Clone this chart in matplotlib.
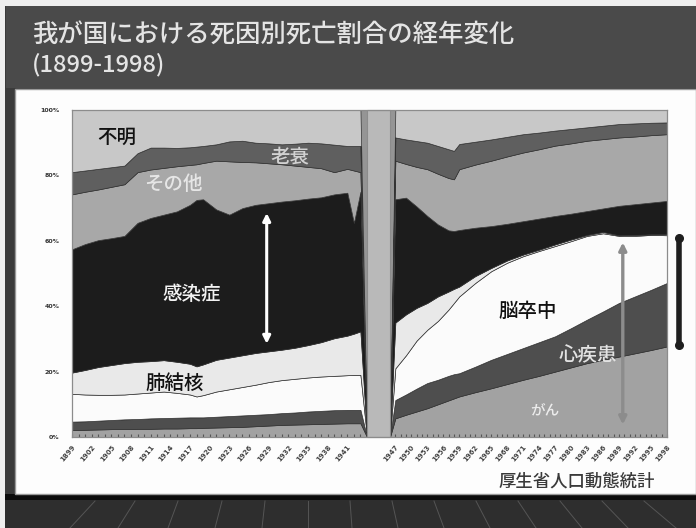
import matplotlib
matplotlib.use("Agg")
import matplotlib.pyplot as plt
from matplotlib.patches import Rectangle
from matplotlib.lines import Line2D
import numpy as np

plt.rcParams['font.family'] = ['Noto Sans CJK JP', 'DejaVu Sans']

W, H = 696, 528

# ---- death-cause shares (%), pre-war period; 1944 has no data (0) ----
years_pre = [1899, 1901, 1903, 1905, 1907, 1909, 1911, 1913, 1915, 1917, 1918,
             1919, 1921, 1923, 1925, 1927, 1929, 1931, 1933, 1935, 1937, 1939,
             1941, 1942, 1943, 1944]
cancer_pre = [2.1, 2.2, 2.3, 2.4, 2.4, 2.5, 2.5, 2.6, 2.6, 2.7, 2.7, 2.8, 2.9,
              3.0, 3.1, 3.3, 3.5, 3.7, 3.8, 3.9, 4.0, 4.1, 4.2, 4.2, 4.2, 0]
heart_pre = [2.6, 2.6, 2.7, 2.8, 3.0, 3.0, 3.2, 3.2, 3.3, 3.3, 3.3, 3.2, 3.3,
             3.4, 3.5, 3.5, 3.5, 3.6, 3.7, 3.9, 4.0, 4.1, 4.1, 4.1, 4.1, 0]
stroke_pre = [8.5, 8.2, 7.9, 7.7, 7.6, 7.8, 7.9, 8.1, 7.6, 7.0, 6.4, 6.8, 7.7,
              8.2, 8.7, 9.2, 9.8, 10.1, 10.3, 10.4, 10.5, 10.5, 10.6, 10.7, 10.7, 0]
tb_pre = [6.5, 7.5, 8.5, 9.1, 9.6, 9.7, 9.6, 9.6, 9.5, 9.4, 9.2, 9.4, 9.7,
          9.7, 9.7, 9.7, 9.4, 9.3, 9.5, 9.9, 10.5, 11.5, 12.1, 12.6, 13.3, 0]
infect_pre = [37.7, 38.5, 38.8, 38.8, 38.9, 42.5, 43.8, 44.5, 46.0, 48.6, 50.9,
              50.5, 46.0, 43.7, 45.0, 45.3, 45.3, 45.3, 45.1, 44.8, 44.3, 44.0,
              43.7, 33.9, 42.7, 0]
other_pre = [16.8, 16.0, 15.5, 15.7, 15.8, 15.5, 14.8, 14.3, 13.8, 12.2, 10.9,
             11.1, 14.9, 16.3, 14.1, 13.0, 12.2, 11.4, 10.6, 9.7, 8.9, 6.8,
             7.3, 16.0, 6.0, 0]
senility_pre = [6.8, 6.5, 6.3, 6.0, 5.7, 5.8, 6.7, 6.2, 5.6, 5.4, 5.4, 5.2, 5.0,
                6.1, 6.5, 6.0, 6.1, 6.1, 6.7, 7.4, 7.6, 8.4, 7.0, 7.5, 8.0, 0]
unknown_pre = [19.0, 18.5, 18.0, 17.5, 17.0, 13.2, 11.5, 11.5, 11.6, 11.4, 11.2,
               11.0, 10.5, 9.6, 9.4, 10.0, 10.2, 10.5, 10.3, 10.0, 10.2, 10.6,
               11.0, 11.0, 11.0, 0]

# ---- post-war period; 1946 has no data (0) ----
years_post = [1946, 1947, 1949, 1951, 1953, 1955, 1957, 1958, 1959, 1962, 1965,
              1968, 1971, 1974, 1977, 1980, 1983, 1986, 1989, 1992, 1995, 1998]
cancer_post = [0, 5.7, 6.8, 7.8, 8.8, 10.0, 11.2, 11.8, 12.4, 13.7, 14.9, 16.2,
               17.5, 18.7, 20.0, 21.3, 22.6, 23.6, 24.6, 25.6, 26.6, 27.7]
heart_post = [0, 5.6, 6.2, 7.0, 7.7, 7.5, 7.5, 7.4, 7.1, 7.8, 8.7, 9.2, 9.7,
              10.3, 10.8, 12.0, 13.3, 14.8, 16.4, 17.4, 18.4, 19.4]
stroke_post = [0, 9.7, 12.0, 14.7, 16.3, 18.0, 20.3, 21.8, 23.5, 25.6, 27.1,
               27.9, 28.1, 27.9, 27.6, 26.6, 25.6, 23.9, 20.5, 18.5, 16.8, 14.6]
tb_post = [0, 14.0, 12.5, 10.0, 8.2, 7.5, 5.5, 4.3, 3.0, 2.1, 1.0, 0.7, 0.5,
           0.4, 0.5, 0.5, 0.3, 0.4, 0.2, 0.3, 0.2, 0.3]
infect_post = [0, 37.7, 35.7, 31.0, 26.6, 22.0, 18.7, 17.7, 17.3, 14.8, 12.8,
               11.2, 10.2, 9.5, 8.7, 7.9, 7.3, 7.2, 9.0, 9.4, 9.7, 10.2]
other_post = [0, 11.8, 10.3, 12.1, 14.3, 15.5, 16.0, 15.8, 18.6, 19.3, 20.0,
              20.6, 21.0, 21.2, 21.5, 21.5, 21.5, 21.2, 20.9, 20.7, 20.6, 20.4]
senility_post = [0, 7.1, 7.5, 7.9, 8.1, 8.5, 8.8, 8.7, 7.7, 7.0, 6.5, 6.0, 5.6,
                 5.1, 4.6, 4.4, 4.1, 4.1, 4.1, 4.0, 3.8, 3.6]
unknown_post = [0, 8.4, 9.0, 9.5, 10.0, 11.0, 12.0, 12.5, 10.4, 9.7, 9.0, 8.2,
                7.4, 6.9, 6.3, 5.8, 5.3, 4.8, 4.3, 4.1, 3.9, 3.8]

causes = ['がん', '心疾患', '脳卒中', '肺結核', '感染症', 'その他', '老衰', '不明']
layer_colors = ['#a2a2a2', '#4e4e4e', '#fbfbfb', '#e9e9e9', '#1c1c1c',
                '#a8a8a8', '#5f5f5f', '#c8c8c8']
y_ticks = [0, 20, 40, 60, 80, 100]


def box(x0, y0, x1, y1):
    """Pixel box (top-left origin) -> figure fraction rect."""
    return [x0 / W, 1 - y1 / H, (x1 - x0) / W, (y1 - y0) / H]


fig = plt.figure(figsize=(W / 100, H / 100), dpi=100)
fig.patch.set_facecolor('#efefef')

# slide background pieces
fig.add_artist(Rectangle((5 / W, 0), 1, 1 - 6 / H, transform=fig.transFigure,
                         facecolor='#3b3b3b', edgecolor='none', zorder=0))
fig.add_artist(Rectangle((6 / W, 1 - 88 / H), 1, 82 / H, transform=fig.transFigure,
                         facecolor='#4a4a4a', edgecolor='none', zorder=0))
fig.add_artist(Rectangle((5 / W, 0), 1, 1 - 494 / H, transform=fig.transFigure,
                         facecolor='#2e2e2e', edgecolor='none', zorder=0))
fig.add_artist(Rectangle((5 / W, 1 - 500 / H), 1, 6 / H, transform=fig.transFigure,
                         facecolor='#0c0c0c', edgecolor='none', zorder=0))
for xt, xb in [(95, 70), (135, 118), (178, 168), (222, 215), (265, 262),
               (308, 308), (350, 352), (392, 398), (434, 444), (476, 490),
               (518, 536), (560, 582), (602, 628), (644, 676)]:
    fig.add_artist(Line2D([xt / W, xb / W], [1 - 501 / H, 0], transform=fig.transFigure,
                          color='#555555', lw=0.7, zorder=0))

# white panel
fig.add_artist(Rectangle((15 / W, 1 - 494 / H), (W - 15) / W, (494 - 89) / H,
                         transform=fig.transFigure, facecolor='#fdfdfd',
                         edgecolor='#9a9a9a', lw=1.0, zorder=0))

# title
fig.text(32 / W, 1 - 35 / H, '我が国における死因別死亡割合の経年変化', fontsize=18.3,
         fontweight='medium', color='#e4e4e4', ha='left', va='center')
fig.text(32 / W, 1 - 65 / H, '(1899-1998)', fontsize=17, fontweight='medium',
         color='#e4e4e4', ha='left', va='center')

# data panels (pre-war / post-war)
ax_pre = fig.add_axes(box(72, 110, 367, 437), zorder=1)
ax_post = fig.add_axes(box(390, 110, 667, 437), zorder=1)

pre = [cancer_pre, heart_pre, stroke_pre, tb_pre, infect_pre, other_pre,
       senility_pre, unknown_pre]
post = [cancer_post, heart_post, stroke_post, tb_post, infect_post, other_post,
        senility_post, unknown_post]

for ax, yrs, series, tick_years in [
        (ax_pre, years_pre, pre, np.arange(1899, 1944, 3)),
        (ax_post, years_post, post, np.arange(1947, 1999, 3))]:
    ax.stackplot(yrs, *series, colors=layer_colors, labels=causes,
                 edgecolor='#333333', linewidth=0.5)
    ax.set_facecolor('#959595')
    ax.set_xlim(yrs[0], yrs[-1])
    ax.set_ylim(0, 100)
    ax.margins(0)
    for s in ax.spines.values():
        s.set_visible(False)
    ax.set_yticks([])
    ax.set_xticks(tick_years)
    ax.set_xticklabels([str(y) for y in tick_years], rotation=50, ha='right',
                       va='top', rotation_mode='anchor', fontsize=5,
                       fontweight='bold', color='#444444', family='DejaVu Sans')
    ax.set_xticks(np.arange(yrs[0], yrs[-1] + 1, 1), minor=True)
    ax.tick_params(axis='x', which='both', direction='in', length=2.2, width=0.8,
                   color='#555555', pad=5)

# gap band for the missing war years
fig.add_artist(Rectangle((367 / W, 1 - 437 / H), 23 / W, 327 / H,
                         transform=fig.transFigure, facecolor='#b9b9b9',
                         edgecolor='#8c8c8c', lw=0.8, zorder=2))

# frame and percentage axis
ax_bg = fig.add_axes(box(72, 110, 667, 437), zorder=3)
ax_bg.set_facecolor('none')
ax_bg.set_xlim(0, 1)
ax_bg.set_ylim(0, 100)
ax_bg.set_xticks([])
ax_bg.set_yticks(y_ticks)
ax_bg.set_yticklabels([f'{v}%' for v in y_ticks], fontsize=4.5, fontweight='bold',
                      color='#333333', family='DejaVu Sans')
ax_bg.tick_params(axis='y', length=0, pad=9)
for s in ax_bg.spines.values():
    s.set_color('#8c8c8c')
    s.set_linewidth(0.9)

# cause labels
lab = dict(ha='center', va='center', zorder=10, fontweight='medium')
ax_pre.text(1905.9, 91.7, '不明', fontsize=14, color='#111111', **lab)
ax_pre.text(1932.3, 85.6, '老衰', fontsize=14, color='#d2d2d2', **lab)
ax_pre.text(1914.4, 77.1, 'その他', fontsize=14, color='#e6e6e6', **lab)
ax_pre.text(1917.3, 43.7, '感染症', fontsize=14, color='#f2f2f2', **lab)
ax_pre.text(1914.7, 16.5, '肺結核', fontsize=14, color='#111111', **lab)
ax_post.text(1971.9, 38.5, '脳卒中', fontsize=14, color='#111111', **lab)
ax_post.text(1983.2, 24.8, '心疾患', fontsize=14, color='#e2e2e2', **lab)
ax_post.text(1975.1, 8.0, 'がん', fontsize=10.5, color='#ececec', **lab)

# arrows
ax_pre.annotate('', xy=(1928.7, 68.5), xytext=(1928.7, 28.5),
                arrowprops=dict(arrowstyle='<|-|>', color='white', lw=2.2,
                                mutation_scale=11, shrinkA=0, shrinkB=0), zorder=9)
ax_post.annotate('', xy=(1989.7, 59.5), xytext=(1989.7, 3.8),
                 arrowprops=dict(arrowstyle='<|-|>', color='#8c8c8c', lw=2.4,
                                 mutation_scale=11, shrinkA=0, shrinkB=0), zorder=9)

# bracket bar at the right of the chart
fig.add_artist(Line2D([679 / W, 679 / W], [1 - 238 / H, 1 - 345 / H],
                      transform=fig.transFigure, color='#1f1f1f', lw=4,
                      solid_capstyle='round', marker='o', markersize=5.5, zorder=4))

# source
fig.text(655 / W, 1 - 482 / H, '厚生省人口動態統計', fontsize=12.5, color='#3a3a3a',
         fontweight='medium', ha='right', va='center')

fig.savefig('out.png', dpi=100, facecolor=fig.get_facecolor())
